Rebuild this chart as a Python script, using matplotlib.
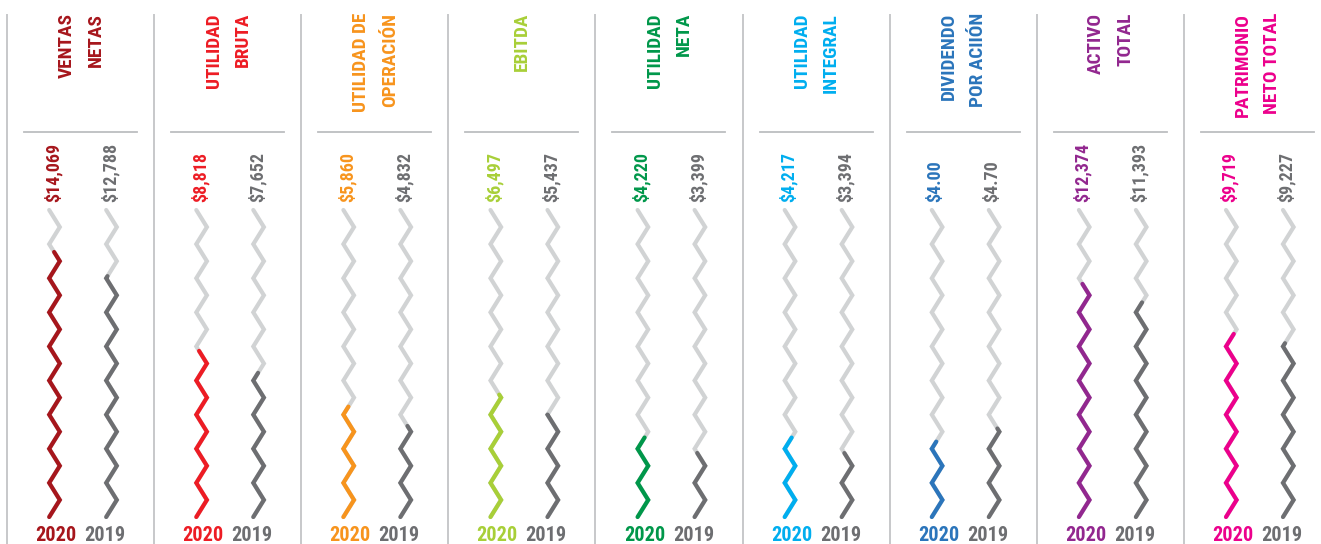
import matplotlib
matplotlib.use("Agg")
import matplotlib.pyplot as plt
import numpy as np
from matplotlib import font_manager as fm
from matplotlib.lines import Line2D

# ---- data ----
titles = ["VENTAS\nNETAS", "UTILIDAD\nBRUTA", "UTILIDAD DE\nOPERACIÓN", "EBITDA",
          "UTILIDAD\nNETA", "UTILIDAD\nINTEGRAL", "DIVIDENDO\nPOR ACIIÓN",
          "ACTIVO\nTOTAL", "PATRIMONIO\nNETO TOTAL"]
values_2020 = [14069, 8818, 5860, 6497, 4220, 4217, 4.00, 12374, 9719]
values_2019 = [12788, 7652, 4832, 5437, 3399, 3394, 4.70, 11393, 9227]
labels_2020 = ["$14,069", "$8,818", "$5,860", "$6,497", "$4,220", "$4,217",
               "$4.00", "$12,374", "$9,719"]
labels_2019 = ["$12,788", "$7,652", "$4,832", "$5,437", "$3,399", "$3,394",
               "$4.70", "$11,393", "$9,227"]
full_scale = [16300, 16300, 16300, 16300, 16300, 16300, 16.3, 16300, 16300]
years = ["2020", "2019"]

colors = ["#A6161C", "#ED1C24", "#F7941D", "#A8CF38", "#00974A", "#00AEEF",
          "#2B75BB", "#92278F", "#EC008C"]
GRAY = "#6D6E71"
LIGHT = "#D1D3D4"
RULE = "#BCBEC0"

W, H = 1321, 544


def pick_font():
    """prefer an installed bold condensed face, else plain bold sans"""
    def wt(f):
        w = f.weight
        return fm.weight_dict.get(w, 400) if isinstance(w, str) else w

    bold = [f for f in fm.fontManager.ttflist if 600 <= wt(f) <= 900
            and "italic" not in f.style and "oblique" not in f.style]
    narrow = [f for f in bold if "Narrow" in f.name or "Condensed" in f.name
              or f.stretch in ("condensed", "semi-condensed", "extra-condensed")]
    prefs = ["Liberation Sans Narrow", "Roboto Condensed", "DejaVu Sans",
             "Noto Sans", "Open Sans"]
    stretch_rank = {"condensed": 0, "semi-condensed": 1, "extra-condensed": 2}

    def rank(f):
        p = next((k for k, n in enumerate(prefs) if f.name.startswith(n)), 99)
        return (p, abs(wt(f) - 700), stretch_rank.get(f.stretch, 1))

    if narrow:
        return fm.FontProperties(fname=sorted(narrow, key=rank)[0].fname)
    return fm.FontProperties(family="Liberation Sans", weight="bold")


FP = pick_font()


def fx(px):
    return px / W


def fy(py):
    return 1 - py / H


def zigzag(full, n_half=18):
    y = np.linspace(0, full, n_half + 1)
    side = np.where(np.arange(n_half + 1) % 2 == 0, -1.0, 1.0)
    return side, y


def partial(side, y, value):
    keep = y < value
    ys = y[keep]
    xs = side[keep]
    i = keep.sum()
    if i < len(y):
        t = (value - y[i - 1]) / (y[i] - y[i - 1])
        xs = np.append(xs, xs[-1] + t * (side[i] - xs[-1]))
        ys = np.append(ys, value)
    return xs, ys


fig = plt.figure(figsize=(W / 100, H / 100), dpi=100)
renderer = fig.canvas.get_renderer()


def fit_size(text, target_px, base=20):
    t = fig.text(0, 0, text, fontproperties=FP, fontsize=base)
    w = t.get_window_extent(renderer).width
    t.remove()
    return base * target_px / w


title_fs = fit_size("VENTAS", 65)
value_fs = fit_size("$14,069", 59)
year_fs = fit_size("2020", 41)

pitch = 147.1
cols = [47.5, 104.5]      # zigzag column centres within a panel (px)
amp = 5.3                 # half width of zigzag (px)
lw = 3.0

for i, title in enumerate(titles):
    sep = 7 + pitch * i
    c = colors[i]

    # panel separator
    fig.add_artist(Line2D([fx(sep), fx(sep)], [fy(15), fy(548)],
                          color="#C7C8CA", lw=1.4))
    # rule under title
    fig.add_artist(Line2D([fx(sep + 17), fx(sep + 130)], [fy(132), fy(132)],
                          color=RULE, lw=1.3))

    fig.text(fx(sep + 74), fy(13), title, rotation=90, ha="center", va="top",
             multialignment="right", color=c, fontproperties=FP,
             fontsize=title_fs, linespacing=1.8)

    ax = fig.add_axes([fx(sep), fy(517), fx(pitch), (517 - 210) / H])
    ax.set_xlim(0, pitch)
    ax.set_ylim(0, full_scale[i])
    ax.axis("off")

    side, y = zigzag(full_scale[i])
    for j, (val, col) in enumerate(zip([values_2020[i], values_2019[i]], [c, GRAY])):
        x0 = cols[j]
        ax.plot(x0 + side * amp, y, color=LIGHT, lw=lw, solid_capstyle="round",
                solid_joinstyle="miter", clip_on=False)
        xs, ys = partial(side, y, val)
        ax.plot(x0 + xs * amp, ys, color=col, lw=lw, solid_capstyle="round",
                solid_joinstyle="miter", clip_on=False)

    for j, (lab, col) in enumerate(zip([labels_2020[i], labels_2019[i]], [c, GRAY])):
        fig.text(fx(sep + 46 + 57 * j), fy(202), lab, rotation=90, ha="center",
                 va="bottom", color=col, fontproperties=FP, fontsize=value_fs)

    for j, (yr, col) in enumerate(zip(years, [c, GRAY])):
        fig.text(fx(sep + 49 + 49 * j), fy(541), yr, ha="center", va="baseline",
                 color=col, fontproperties=FP, fontsize=year_fs)

fig.savefig("out.png", dpi=100, facecolor="white")
